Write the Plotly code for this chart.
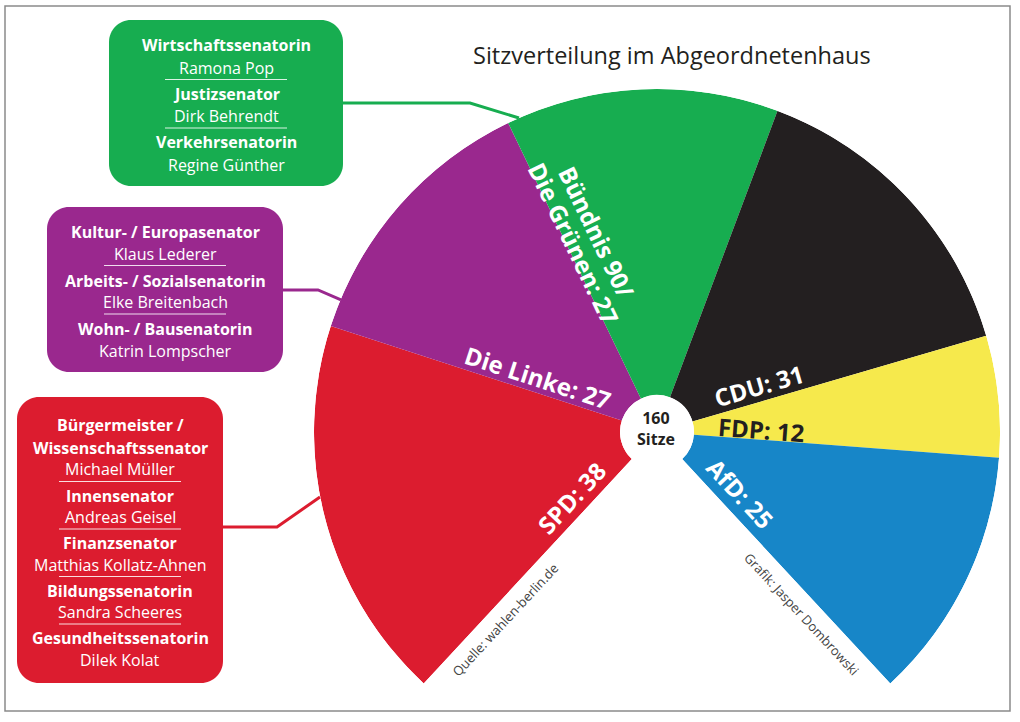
import math
import plotly.graph_objects as go

# ---------------- data ----------------
title = "Sitzverteilung im Abgeordnetenhaus"
parties = ["SPD", "Die Linke", "Bündnis 90/\nDie Grünen", "CDU", "FDP", "AfD"]
seats = [38, 27, 27, 31, 12, 25]
colors = ["#dc1c2f", "#9a288e", "#17ad50", "#231f20", "#f6e94c", "#1786c8"]
label_colors = ["white", "white", "white", "white", "#231f20", "white"]
total_label = ["160", "Sitze"]
source = "Quelle: wahlen-berlin.de"
credit = "Grafik: Jasper Dombrowski"

senators_gruene = [("Wirtschaftssenatorin", "Ramona Pop"),
                   ("Justizsenator", "Dirk Behrendt"),
                   ("Verkehrsenatorin", "Regine Günther")]
senators_linke = [("Kultur- / Europasenator", "Klaus Lederer"),
                  ("Arbeits- / Sozialsenatorin", "Elke Breitenbach"),
                  ("Wohn- / Bausenatorin", "Katrin Lompscher")]
senators_spd = [("Bürgermeister /\nWissenschaftssenator", "Michael Müller"),
                ("Innensenator", "Andreas Geisel"),
                ("Finanzsenator", "Matthias Kollatz-Ahnen"),
                ("Bildungssenatorin", "Sandra Scheeres"),
                ("Gesundheitssenatorin", "Dilek Kolat")]

# ---------------- layout constants (pixels) ----------------
W, H = 1020, 722
CX, CY, R = 657, 432, 343
HOLE_PX = 37
GAP_SEATS = 50          # size of the open wedge at the bottom, in seat units
FONT = "Open Sans"
DARK = "#231f20"
BOX_FS = 16

total = sum(seats)
dps = 360.0 / (total + GAP_SEATS)
start_math = 270 - GAP_SEATS * dps / 2
sector = [start_math - total * dps, start_math]


def P(x, y):
    return x / W, 1 - y / H


# bars
theta, widths, edges_start, edges_end = [], [], [], []
cum = 0
for s in seats:
    theta.append((cum + s / 2) * dps)
    widths.append(s * dps)
    edges_start.append(start_math - cum * dps)
    edges_end.append(start_math - (cum + s) * dps)
    cum += s

fig = go.Figure()
fig.add_trace(go.Barpolar(
    r=[1] * len(seats), theta=theta, width=widths,
    marker=dict(color=colors, line=dict(width=0)),
    hovertext=[p.replace("\n", " ") + ": " + str(s) for p, s in zip(parties, seats)],
    hoverinfo="text", showlegend=False,
))

dx0, dy1 = P(CX - R, CY - R)
dx1, dy0 = P(CX + R, CY - R * math.sin(math.radians(sector[0])))

rot = ((start_math + 180) % 360) - 180

annotations = []
shapes = []


def add_text(x, y, text, size, color, angle=0, bold=False, family=FONT):
    px_, py_ = P(x, y)
    t = "<b>%s</b>" % text if bold else text
    annotations.append(dict(x=px_, y=py_, xref="paper", yref="paper", text=t,
                            showarrow=False, textangle=angle,
                            xanchor="center", yanchor="middle",
                            font=dict(family=family, size=size, color=color)))


# ---------------- slice labels ----------------
LABEL_POS = [("start", 106, 18), ("start", 130, 15), ("start", 206, 20),
             ("end", 111, 16), ("end", 104, 10), ("end", 102, 19)]
LH = 26


def edge_frame(a, side):
    ar = math.radians(a)
    u = (math.cos(ar), -math.sin(ar))
    if side == "start":
        n = (math.sin(ar), math.cos(ar))
        ang = math.degrees(math.atan2(math.sin(ar), -math.cos(ar)))
    else:
        n = (-math.sin(ar), -math.cos(ar))
        ang = ((-a + 180) % 360) - 180
    return u, n, ang


for i, (p, s) in enumerate(zip(parties, seats)):
    side, along, d = LABEL_POS[i]
    a = edges_start[i] if side == "start" else edges_end[i]
    u, n, ang = edge_frame(a, side)
    bx = CX + along * u[0] + d * n[0]
    by = CY + along * u[1] + d * n[1]
    lines = (p + ": " + str(s)).split("\n")
    up = (math.sin(math.radians(ang)), -math.cos(math.radians(ang)))
    for j, ln in enumerate(lines):
        off = ((len(lines) - 1) / 2 - j) * LH
        add_text(bx + off * up[0], by + off * up[1], ln, 24, label_colors[i],
                 angle=ang, bold=True)

# credits along the open wedge
u, n, ang = edge_frame(edges_start[0], "start")
add_text(CX + 241 * u[0] - 16 * n[0], CY + 241 * u[1] - 16 * n[1], source, 13,
         "#444444", angle=ang)
u, n, ang = edge_frame(edges_end[-1], "end")
add_text(CX + 232 * u[0] - 18 * n[0], CY + 232 * u[1] - 18 * n[1], credit, 13,
         "#444444", angle=ang)

# centre text
add_text(CX - 1, CY - 4, "<br>".join("<b>%s</b>" % t for t in total_label), 16, DARK)

# title
add_text(672, 55, title, 23.5, DARK)


# ---------------- senator boxes ----------------
def rrect_path(x0, y0, x1, y1, r):
    k = 0.5523 * r
    pts = []

    def f(x, y):
        a, b = P(x, y)
        return "%.5f,%.5f" % (a, b)
    pts.append("M" + f(x0 + r, y0))
    pts.append("L" + f(x1 - r, y0))
    pts.append("C" + f(x1 - r + k, y0) + " " + f(x1, y0 + r - k) + " " + f(x1, y0 + r))
    pts.append("L" + f(x1, y1 - r))
    pts.append("C" + f(x1, y1 - r + k) + " " + f(x1 - r + k, y1) + " " + f(x1 - r, y1))
    pts.append("L" + f(x0 + r, y1))
    pts.append("C" + f(x0 + r - k, y1) + " " + f(x0, y1 - r + k) + " " + f(x0, y1 - r))
    pts.append("L" + f(x0, y0 + r))
    pts.append("C" + f(x0, y0 + r - k) + " " + f(x0 + r - k, y0) + " " + f(x0 + r, y0))
    return " ".join(pts) + " Z"


boxes = [
    dict(rect=(109, 20, 343, 186), color=colors[2], people=senators_gruene, y0=45,
         gaps=(23, 23, 11.5, 14), conn=[(343, 103), (470, 103), (519, 118)]),
    dict(rect=(47, 207, 283, 372), color=colors[1], people=senators_linke, y0=232,
         gaps=(23, 22, 11.5, 15), conn=[(283, 290), (318, 290), (341, 300)]),
    dict(rect=(17, 397, 223, 683), color=colors[0], people=senators_spd, y0=425,
         gaps=(23, 21.5, 12, 14), conn=[(223, 527), (277, 527), (320, 497)]),
]

for b in boxes:
    x0, y0, x1, y1 = b["rect"]
    shapes.append(dict(type="path", xref="paper", yref="paper",
                       path=rrect_path(x0, y0, x1, y1, 22),
                       fillcolor=b["color"], line=dict(width=0), layer="below"))
    pth = "M" + " L".join("%.5f,%.5f" % P(x, y) for x, y in b["conn"])
    shapes.append(dict(type="path", xref="paper", yref="paper", path=pth,
                       line=dict(color=b["color"], width=3), layer="below"))
    cx = (x0 + x1) / 2
    tt, tn, ts, st = b["gaps"]
    y = b["y0"]
    for k, (role, name) in enumerate(b["people"]):
        rl = role.split("\n")
        for j, r_ in enumerate(rl):
            add_text(cx, y, r_, BOX_FS, "white", bold=True)
            if j < len(rl) - 1:
                y += tt
        y += tn
        add_text(cx, y, name, BOX_FS, "white")
        if k < len(b["people"]) - 1:
            y += ts
            sx0, sy = P(cx - 61, y)
            sx1, _ = P(cx + 61, y)
            shapes.append(dict(type="line", xref="paper", yref="paper",
                               x0=sx0, x1=sx1, y0=sy, y1=sy,
                               line=dict(color="rgba(255,255,255,0.85)", width=1)))
            y += st

# frame
fx0, fy0 = P(5, 6)
fx1, fy1 = P(1010, 711)
shapes.append(dict(type="rect", xref="paper", yref="paper", x0=fx0, y0=fy0,
                   x1=fx1, y1=fy1, line=dict(color="#8a8a8a", width=1.5),
                   fillcolor="rgba(0,0,0,0)"))

fig.update_layout(
    width=W, height=H, margin=dict(l=0, r=0, t=0, b=0),
    paper_bgcolor="white", plot_bgcolor="white",
    showlegend=False,
    font=dict(family=FONT),
    polar=dict(
        domain=dict(x=[dx0, dx1], y=[dy0, dy1]),
        sector=sector, hole=HOLE_PX / R, bgcolor="rgba(0,0,0,0)",
        radialaxis=dict(visible=False, range=[0, 1]),
        angularaxis=dict(visible=False, rotation=rot, direction="clockwise",
                         thetaunit="degrees"),
    ),
    annotations=annotations, shapes=shapes,
)

fig.write_html("out.html", config={"displayModeBar": False},
               post_script="document.body.style.margin='0';")
